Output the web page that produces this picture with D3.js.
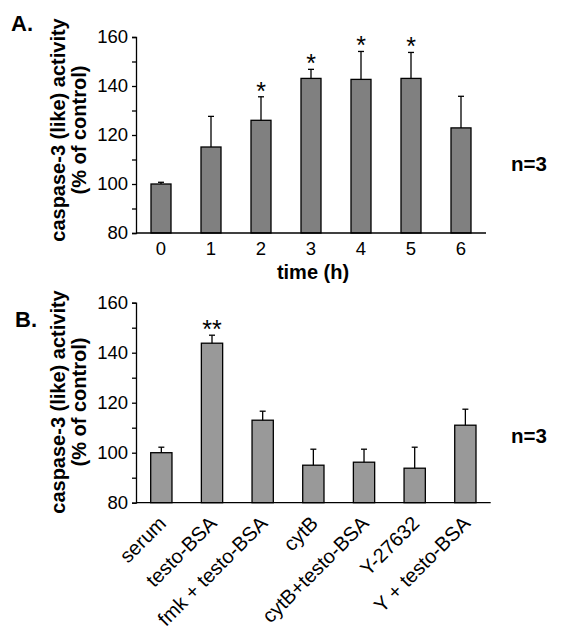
<!DOCTYPE html>
<html><head><meta charset="utf-8">
<script src="https://cdn.jsdelivr.net/npm/d3@7"></script>
<style>body{margin:0;background:#fff}svg{display:block}text{font-family:Arial,"Liberation Sans",sans-serif}</style>
</head><body>
<script>
// Panel A data
const hoursA = ["0","1","2","3","4","5","6"];
const meanA = [100, 115.1, 126, 143.1, 142.7, 143.1, 122.9];
const errA  = [0.7, 12.5, 9.6, 3.7, 11.4, 10.6, 12.9];
const sigA  = ["", "", "*", "*", "*", "*", ""];
// Panel B data
const treatB = ["serum","testo-BSA","fmk + testo-BSA","cytB","cytB+testo-BSA","Y-27632","Y + testo-BSA"];
const meanB = [100, 143.8, 113, 95, 96.2, 93.8, 111];
const errB  = [2.2, 3.2, 3.6, 6.4, 5.2, 8.4, 6.4];
const sigB  = ["", "**", "", "", "", "", ""];
const yMajor = [80,100,120,140,160];
const yMinor = [90,110,130,150];

const svg = d3.select("body").append("svg").attr("width",564).attr("height",642);

function panel(o){
  const g = svg.append("g");
  const x = d3.scaleBand().domain(o.cats).range(o.xr).paddingInner(o.pad).paddingOuter(o.pad/2);
  const y = d3.scaleLinear().domain([80,160]).range(o.yr);
  const data = o.cats.map((c,i)=>({c, m:o.mean[i], e:o.err[i], s:o.sig[i]}));
  g.selectAll("rect.bar").data(data).join("rect")
    .attr("x",d=>x(d.c)).attr("width",x.bandwidth())
    .attr("y",d=>y(d.m)).attr("height",d=>y(80)-y(d.m))
    .attr("fill",o.fill).attr("stroke","#000").attr("stroke-width",1.3);
  const cap = 3;
  data.forEach(d=>{
    const cx = x(d.c)+x.bandwidth()/2;
    g.append("line").attr("x1",cx).attr("x2",cx).attr("y1",y(d.m)).attr("y2",y(d.m+d.e)).attr("stroke","#000").attr("stroke-width",1.3);
    g.append("line").attr("x1",cx-cap).attr("x2",cx+cap).attr("y1",y(d.m+d.e)).attr("y2",y(d.m+d.e)).attr("stroke","#000").attr("stroke-width",1.3);
    if(d.s){
      g.append("text").attr("x",cx).attr("y",y(d.m+d.e)+3).attr("text-anchor","middle")
        .attr("font-size",25).text(d.s);
    }
  });
  const ya = g.append("g").attr("transform",`translate(${o.xr[0]},0)`)
    .call(d3.axisLeft(y).tickValues(yMajor).tickSize(4).tickPadding(4).tickFormat(d3.format("d")));
  ya.selectAll("text").attr("font-size",18.5).attr("fill","#000");
  ya.selectAll("line,path").attr("stroke","#000").attr("stroke-width",1.3);
  const ym = g.append("g").attr("transform",`translate(${o.xr[0]},0)`)
    .call(d3.axisLeft(y).tickValues(yMinor).tickSize(4).tickFormat(""));
  ym.select("path").remove();
  ym.selectAll("line").attr("stroke","#000").attr("stroke-width",1.3);
  const xa = g.append("g").attr("transform",`translate(0,${y(80)})`)
    .call(d3.axisBottom(x).tickSize(0).tickPadding(o.tp));
  xa.select("path").attr("d",`M${o.xr[0]},0H${o.xr[1]}`).attr("stroke","#000").attr("stroke-width",1.3);
  xa.selectAll("text").attr("font-size",o.xfs).attr("fill","#000");
  if(o.rot){
    xa.selectAll("text").attr("text-anchor","end").attr("dy","0.35em")
      .attr("transform",`translate(1,${o.tp+5}) rotate(-45)`).attr("y",0).attr("x",0);
  }
  const cy = o.ty;
  g.append("text").attr("transform",`translate(65,${cy}) rotate(-90)`).attr("text-anchor","middle")
    .attr("font-size",20).attr("font-weight","bold").text("caspase-3 (like) activity");
  g.append("text").attr("transform",`translate(86,${cy}) rotate(-90)`).attr("text-anchor","middle")
    .attr("font-size",20).attr("font-weight","bold").text("(% of control)");
  g.append("text").attr("x",511).attr("y",o.ny).attr("font-size",20.5).attr("font-weight","bold").text("n=3");
  g.append("text").attr("x",o.lx).attr("y",o.ly).attr("font-size",22).attr("font-weight","bold").text(o.label);
  return {g,x,y};
}

const A = panel({cats:hoursA, mean:meanA, err:errA, sig:sigA, xr:[136,486], yr:[233,37], pad:0.6,
  fill:"#808080", tp:9, xfs:18.5, rot:false, ty:130, ny:171, lx:11, ly:31, label:"A."});
A.g.append("text").attr("x",(136+486)/2+2).attr("y",279).attr("text-anchor","middle")
  .attr("font-size",20).attr("font-weight","bold").text("time (h)");

const B = panel({cats:treatB, mean:meanB, err:errB, sig:sigB, xr:[136,490.7], yr:[502.7,302.7], pad:0.58,
  fill:"#999999", tp:12, xfs:20, rot:true, ty:402, ny:443, lx:15, ly:327, label:"B."});
</script>
</body></html>
